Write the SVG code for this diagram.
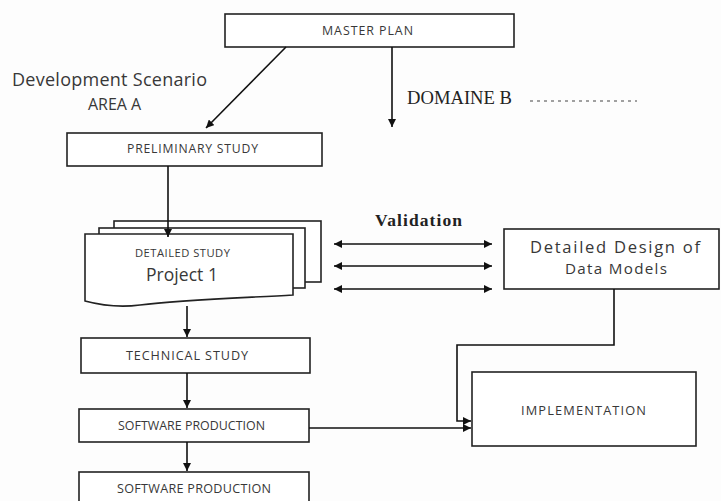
<svg xmlns="http://www.w3.org/2000/svg" width="721" height="501" viewBox="0 0 721 501">
<style>
.box{fill:#fff;stroke:#222;stroke-width:1.6}
.ln{fill:none;stroke:#111;stroke-width:1.6}
.t{font-family:"Open Sans","Noto Sans",sans-serif;fill:#383838}
.ser{font-family:"Liberation Serif","DejaVu Serif",serif;fill:#222}
</style>
<defs>
<marker id="ah" viewBox="0 0 10 10" refX="10" refY="5" markerWidth="8" markerHeight="8" markerUnits="userSpaceOnUse" orient="auto-start-reverse">
<path d="M0,0 L10,5 L0,10 Z" fill="#111"/>
</marker>
</defs>
<rect width="721" height="501" fill="#fdfdfd"/>
<g id="master-plan">
<rect class="box" x="225" y="14" width="289" height="33"/>
<text class="t" x="322" y="34.5" font-size="12.4" textLength="91" lengthAdjust="spacing">MASTER PLAN</text>
</g>
<g id="labels">
<text class="t" x="12" y="86" font-size="18" textLength="195" lengthAdjust="spacing">Development Scenario</text>
<text class="t" x="88" y="110" font-size="16" textLength="53" lengthAdjust="spacing">AREA A</text>
<text class="ser" x="407" y="104" font-size="18.6" textLength="105" lengthAdjust="spacing">DOMAINE B</text>
<text class="ser" x="375" y="226" font-size="17.5" font-weight="bold" fill="#333" textLength="87" lengthAdjust="spacing">Validation</text>
</g>
<g id="preliminary-study">
<rect class="box" x="67" y="133" width="255" height="33"/>
<text class="t" x="127" y="153.3" font-size="12.2" textLength="131" lengthAdjust="spacing">PRELIMINARY STUDY</text>
</g>
<g id="detailed-study">
<rect class="box" x="114" y="221" width="207" height="61"/>
<rect class="box" x="99" y="228" width="206" height="60"/>
<path class="box" d="M85,234 H293 V295 C240,298 180,300 140,305 C118,308 100,305 85,301 Z"/>
<text class="t" x="135" y="256.7" font-size="11.2" textLength="95" lengthAdjust="spacing">DETAILED STUDY</text>
<text class="t" x="146" y="281" font-size="17.5" textLength="72" lengthAdjust="spacing">Project 1</text>
</g>
<g id="detailed-design">
<rect class="box" x="504" y="229" width="215" height="60"/>
<text class="t" x="530" y="252.5" font-size="16.6" textLength="170" lengthAdjust="spacing">Detailed Design of</text>
<text class="t" x="565" y="273.5" font-size="15.2" textLength="102" lengthAdjust="spacing">Data Models</text>
</g>
<g id="technical-study">
<rect class="box" x="81" y="338" width="229" height="35"/>
<text class="t" x="126" y="360" font-size="12.6" textLength="122" lengthAdjust="spacing">TECHNICAL STUDY</text>
</g>
<g id="software-production-1">
<rect class="box" x="79" y="409" width="230" height="33"/>
<text class="t" x="118" y="430" font-size="12.4" textLength="147" lengthAdjust="spacing">SOFTWARE PRODUCTION</text>
</g>
<g id="software-production-2">
<rect class="box" x="79" y="472" width="230" height="40"/>
<text class="t" x="117" y="493.3" font-size="12.6" textLength="154" lengthAdjust="spacing">SOFTWARE PRODUCTION</text>
</g>
<g id="implementation">
<rect class="box" x="472" y="372" width="224" height="74"/>
<text class="t" x="521" y="414.7" font-size="12.8" textLength="125" lengthAdjust="spacing">IMPLEMENTATION</text>
</g>
<g id="connectors">
<line class="ln" x1="286" y1="47" x2="206" y2="128" marker-end="url(#ah)"/>
<line class="ln" x1="392" y1="47" x2="392" y2="127" marker-end="url(#ah)"/>
<line x1="530" y1="101" x2="637" y2="101" stroke="#444" stroke-width="1.2" stroke-dasharray="3,4"/>
<line class="ln" x1="168" y1="166" x2="168" y2="237" marker-end="url(#ah)"/>
<line class="ln" x1="334" y1="244" x2="492" y2="244" marker-start="url(#ah)" marker-end="url(#ah)"/>
<line class="ln" x1="334" y1="266" x2="492" y2="266" marker-start="url(#ah)" marker-end="url(#ah)"/>
<line class="ln" x1="334" y1="289" x2="492" y2="289" marker-start="url(#ah)" marker-end="url(#ah)"/>
<line class="ln" x1="187" y1="306" x2="187" y2="337" marker-end="url(#ah)"/>
<line class="ln" x1="187" y1="373" x2="187" y2="408" marker-end="url(#ah)"/>
<line class="ln" x1="187" y1="442" x2="187" y2="471" marker-end="url(#ah)"/>
<polyline class="ln" points="614,289 614,345 457,345 457,421 471,421" marker-end="url(#ah)"/>
<line class="ln" x1="309" y1="428" x2="471" y2="428" marker-end="url(#ah)"/>
</g>
</svg>
